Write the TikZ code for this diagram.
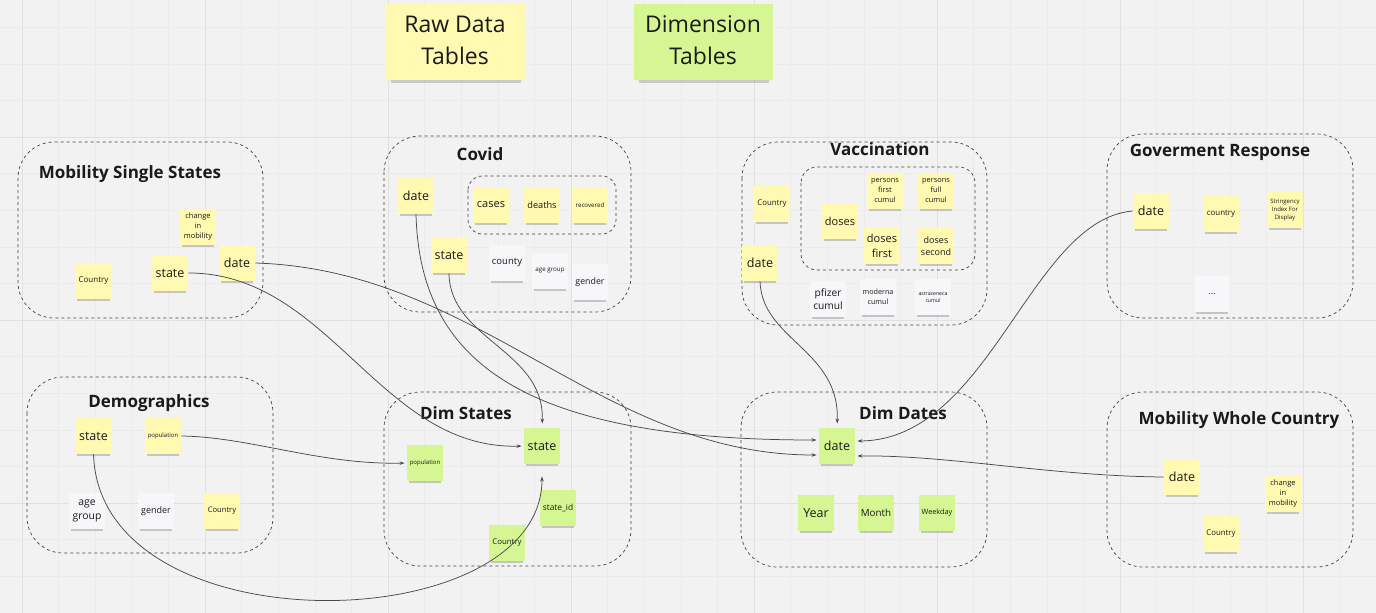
\documentclass[tikz,border=0pt]{standalone}
\usepackage{fontspec}
\setmainfont{Open Sans}
\usetikzlibrary{arrows.meta,shadows}

\definecolor{boardbg}{HTML}{F2F2F2}
\definecolor{gridmin}{HTML}{EBEBEB}
\definecolor{gridmaj}{HTML}{E1E1E1}
\definecolor{stickyY}{HTML}{FFF9B1}
\definecolor{stickyG}{HTML}{D5F692}
\definecolor{stickyW}{HTML}{F7F7F9}
\definecolor{inkdark}{HTML}{1A1A1A}
\definecolor{linkgray}{HTML}{4A4A4A}

\begin{document}
\begin{tikzpicture}[x=1pt, y=-1pt,
    note/.style={minimum width=36.5pt, minimum height=36.5pt, inner sep=0pt, align=center, text=inkdark,
        drop shadow={shadow xshift=0pt, shadow yshift=-4pt, shadow scale=0.88, opacity=0.4}},
    yel/.style={note, fill=stickyY},
    grn/.style={note, fill=stickyG},
    wht/.style={note, fill=stickyW},
    keynote/.style={minimum width=139pt, minimum height=76pt, inner sep=0pt, align=center, text=inkdark,
        font=\fontsize{23}{32}\selectfont,
        drop shadow={shadow xshift=1pt, shadow yshift=-6pt, shadow scale=0.93, opacity=0.35}},
    fs/.style 2 args={font=\fontsize{#1}{#2}\selectfont},
    group/.style={draw=black!75, dash pattern=on 3pt off 3pt, line width=0.7pt, rounded corners=36pt},
    grouptitle/.style={font=\fontsize{17}{20}\selectfont\bfseries, text=inkdark},
    link/.style={draw=linkgray, line width=0.75pt, -{Stealth[length=5pt,width=3.5pt]}, shorten >=2pt}]

    % board and its grid
    \fill[boardbg] (0,0) rectangle (1376,613);
    \useasboundingbox (0,0) rectangle (1376,613);
    \foreach \i in {0,...,37} {
        \draw[gridmin, line width=0.5pt] ({22+36.6*\i},0) -- ({22+36.6*\i},613);
    }
    \foreach \i in {0,...,16} {
        \draw[gridmin, line width=0.5pt] (0,{27.2+36.6*\i}) -- (1376,{27.2+36.6*\i});
    }
    \foreach \i in {0,...,7} {
        \draw[gridmaj, line width=0.8pt] ({22+183*\i},0) -- ({22+183*\i},613);
    }
    \foreach \i in {0,...,2} {
        \draw[gridmaj, line width=0.8pt] (0,{137+183*\i}) -- (1376,{137+183*\i});
    }

    % key notes
    \node[keynote, fill=stickyY] (rawKey) at (455,42) {\raisebox{3pt}{\begin{tabular}{@{}c@{}}Raw Data\\Tables\end{tabular}}};
    \node[keynote, fill=stickyG] (dimKey) at (703,42) {\raisebox{3pt}{\begin{tabular}{@{}c@{}}Dimension\\Tables\end{tabular}}};

    % dashed groups with their titles
    \draw[group] (18,142) rectangle (263,318);
    \node[grouptitle] (msTitle) at (130,174) {Mobility Single States};
    \draw[group] (384,136) rectangle (631,312);
    \draw[group, rounded corners=14pt] (468,176) rectangle (616,234);
    \node[grouptitle] (cvTitle) at (480,154) {Covid};
    \draw[group] (742,142) rectangle (987,325);
    \draw[group, rounded corners=16pt] (801,167) rectangle (975,270);
    \node[grouptitle] (vcTitle) at (880,149) {Vaccination};
    \draw[group] (1107,134) rectangle (1353,318);
    \node[grouptitle] (grTitle) at (1220,152) {Goverment Response};
    \draw[group] (27,377) rectangle (273,553);
    \node[grouptitle] (dmTitle) at (149,403) {Demographics};
    \draw[group] (384,392) rectangle (631,566);
    \node[grouptitle] (dsTitle) at (466,413) {Dim States};
    \draw[group] (741,392) rectangle (987,567);
    \node[grouptitle] (ddTitle) at (903,413) {Dim Dates};
    \draw[group] (1107,392) rectangle (1353,567);
    \node[grouptitle] (mwTitle) at (1239,420) {Mobility Whole Country};

    % Mobility Single States
    \node[yel, fs={8}{10}] (msCountry) at (93.5,281) {Country};
    \node[yel, fs={7.5}{10}] (msChange) at (198,227) {change\\in\\mobility};
    \node[yel, fs={12.5}{15}] (msState) at (170,273) {state};
    \node[yel, fs={12.5}{15}] (msDate) at (237,263) {date};

    % Covid
    \node[yel, fs={12.5}{15}] (cvDate) at (416,196) {date};
    \node[yel, fs={11}{13}] (cvCases) at (491,205) {cases};
    \node[yel, fs={9.2}{11}] (cvDeaths) at (542,205) {deaths};
    \node[yel, fs={6.2}{8}] (cvRecovered) at (590,205) {recovered};
    \node[yel, fs={12.5}{15}] (cvState) at (449,255) {state};
    \node[wht, fs={9.5}{11}] (cvCounty) at (507,263) {county};
    \node[wht, fs={6.2}{8}] (cvAge) at (550,271) {age group};
    \node[wht, fs={8.8}{11}] (cvGender) at (590,282) {gender};

    % Vaccination
    \node[yel, fs={7.8}{10}] (vcCountry) at (772,204) {Country};
    \node[yel, fs={12.5}{15}] (vcDate) at (760,263) {date};
    \node[yel, fs={11}{13}] (vcDoses) at (840,221) {doses};
    \node[yel, fs={7.4}{10}] (vcPersFirst) at (885,191) {persons\\first\\cumul};
    \node[yel, fs={7.4}{10}] (vcPersFull) at (936,191) {persons\\full\\cumul};
    \node[yel, fs={11}{15}] (vcDosesFirst) at (882,246) {doses\\first};
    \node[yel, fs={9}{12.5}] (vcDosesSecond) at (936,246) {doses\\second};
    \node[wht, fs={10.2}{13}] (vcPfizer) at (828,299) {pfizer\\cumul};
    \node[wht, fs={7.2}{9.5}] (vcModerna) at (878,297) {moderna\\cumul};
    \node[wht, fs={5.2}{7}] (vcAstra) at (933,297) {astrazeneca\\cumul};

    % Goverment Response
    \node[yel, fs={12.5}{15}] (grDate) at (1151,211) {date};
    \node[yel, fs={7.9}{10}] (grCountry) at (1221,214) {country};
    \node[yel, fs={6}{8}] (grStringency) at (1285,210) {Stringency\\Index For\\Display};
    \node[wht, fs={9}{11}] (grMore) at (1212,294) {...};

    % Demographics
    \node[yel, fs={12.5}{15}] (dmState) at (93.5,436) {state};
    \node[yel, fs={6}{8}] (dmPopulation) at (163,436) {population};
    \node[wht, fs={10.4}{14}] (dmAge) at (87,511) {age\\group};
    \node[wht, fs={9}{11}] (dmGender) at (156,511) {gender};
    \node[yel, fs={7.6}{10}] (dmCountry) at (222,511) {Country};

    % Dim States
    \node[grn, fs={12.5}{15}] (dsState) at (542,446) {state};
    \node[grn, fs={6}{8}] (dsPopulation) at (425,463) {population};
    \node[grn, fs={8.4}{10}] (dsStateId) at (558,508) {state\_id};
    \node[grn, fs={7.8}{10}] (dsCountry) at (507,543) {Country};

    % Dim Dates
    \node[grn, fs={12.5}{15}] (ddDate) at (837,446) {date};
    \node[grn, fs={12.5}{15}] (ddYear) at (816,513) {Year};
    \node[grn, fs={9.8}{12}] (ddMonth) at (876,513) {Month};
    \node[grn, fs={7.3}{9}] (ddWeekday) at (937,513) {Weekday};

    % Mobility Whole Country
    \node[yel, fs={12.5}{15}] (mwDate) at (1182,477) {date};
    \node[yel, fs={7.5}{10}] (mwChange) at (1283,494) {change\\in\\mobility};
    \node[yel, fs={7.8}{10}] (mwCountry) at (1221,534) {Country};

    % links into the dimension tables
    \draw[link] (msState.east) .. controls (330,273) and (380,450) .. (dsState.west);
    \draw[link] (msDate.east) .. controls (480,270) and (600,455) .. ([yshift=-9pt]ddDate.west);
    \draw[link] (cvDate.south) .. controls (420,360) and (520,440) .. ([yshift=6pt]ddDate.west);
    \draw[link, shorten >=4pt] (cvState.south) .. controls (450,340) and (545,350) .. (dsState.north);
    \draw[link, shorten >=4pt] (vcDate.south) .. controls (762,340) and (840,350) .. (ddDate.north);
    \draw[link] (grDate.west) .. controls (1030,220) and (990,440) .. ([yshift=5pt]ddDate.east);
    \draw[link] (mwDate.west) .. controls (1050,476) and (950,455) .. ([yshift=-10pt]ddDate.east);
    \draw[link] (dmPopulation.east) .. controls (250,437) and (320,465) .. (dsPopulation.west);
    \draw[link] (dmState.south) .. controls (100,650) and (542,640) .. ([yshift=-10pt]dsState.south);

\end{tikzpicture}
\end{document}
